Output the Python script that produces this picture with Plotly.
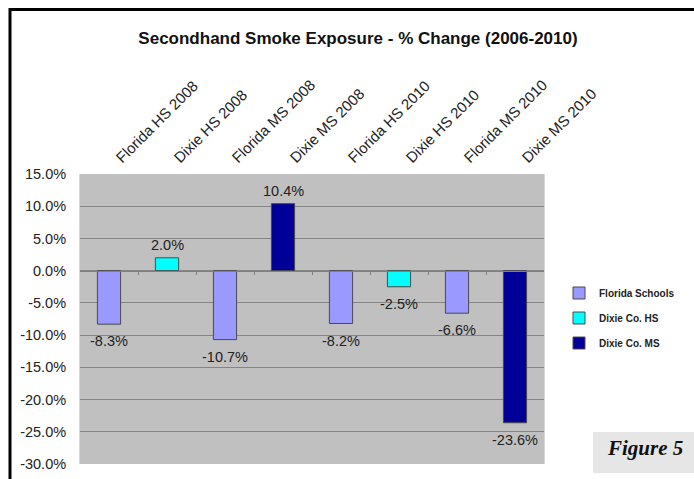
import plotly.graph_objects as go

# Survey categories, in display order
categories = ["Florida HS 2008", "Dixie HS 2008", "Florida MS 2008", "Dixie MS 2008",
              "Florida HS 2010", "Dixie HS 2010", "Florida MS 2010", "Dixie MS 2010"]

# Percent change in secondhand smoke exposure, by group
florida_cats = ["Florida HS 2008", "Florida MS 2008", "Florida HS 2010", "Florida MS 2010"]
florida_vals = [-8.3, -10.7, -8.2, -6.6]
dixie_hs_cats = ["Dixie HS 2008", "Dixie HS 2010"]
dixie_hs_vals = [2.0, -2.5]
dixie_ms_cats = ["Dixie MS 2008", "Dixie MS 2010"]
dixie_ms_vals = [10.4, -23.6]

y_ticks = [15, 10, 5, 0, -5, -10, -15, -20, -25, -30]

series = [
    ("Florida Schools", florida_cats, florida_vals, "#9999FF", "g1"),
    ("Dixie Co. HS", dixie_hs_cats, dixie_hs_vals, "#00FFFF", "g2"),
    ("Dixie Co. MS", dixie_ms_cats, dixie_ms_vals, "#000099", "g3"),
]

FONT = "Liberation Sans, Arial, sans-serif"

fig = go.Figure()
for name, cats, vals, color, grp in series:
    fig.add_trace(go.Bar(
        name=name, x=cats, y=vals, legendgroup=grp,
        marker=dict(color=color, line=dict(color="#4a4a4a", width=1)),
        width=0.4,
    ))
    # value labels: above positive bars, below negative bars
    for c, v in zip(cats, vals):
        fig.add_annotation(
            x=c, y=v, text=f"{v:.1f}%", showarrow=False,
            yanchor="top" if v < 0 else "bottom",
            yshift=-7 if v < 0 else 3,
            font=dict(family=FONT, size=14.5, color="#222222"),
        )

# plot area geometry (pixels) for paper-coordinate helpers
L, R, T, B, W, H = 80, 150, 174, 15, 694, 479
pw, ph = W - L - R, H - T - B
def px(x):
    return (x - L) / pw
def py(y):
    return (H - B - y) / ph

zero_pos = (0 - (-30)) / 45.0

fig.update_layout(
    width=W, height=H,
    margin=dict(l=L, r=R, t=T, b=B, autoexpand=False),
    paper_bgcolor="white", plot_bgcolor="#C0C0C0",
    barmode="overlay",
    font=dict(family=FONT, color="#222222"),
    title=dict(text="<b>Secondhand Smoke Exposure - % Change (2006-2010)</b>",
               x=358 / W, xanchor="center", y=1 - 38 / H, yanchor="middle",
               font=dict(size=17, color="#111111")),
    xaxis=dict(categoryorder="array", categoryarray=categories,
               side="top", tickangle=-45, ticks="", showline=False,
               ticklabelstandoff=4, ticklabelshift=8,
               tickfont=dict(size=15, color="#222222"), showgrid=False),
    xaxis2=dict(overlaying="x", anchor="free", position=zero_pos, side="bottom",
                range=[-0.5, 7.5], tickvals=[0.5, 1.5, 2.5, 3.5, 4.5, 5.5, 6.5],
                ticks="outside", ticklen=3, tickcolor="#808080",
                showticklabels=False, showline=True, linecolor="#808080",
                showgrid=False, zeroline=False),
    yaxis=dict(range=[-30, 15], tickvals=y_ticks,
               ticktext=[f"{v:.1f}%" for v in y_ticks],
               showgrid=True, gridcolor="#858585", gridwidth=1,
               zeroline=False, tickfont=dict(size=14.5, color="#222222"),
               ticklabelstandoff=10,
               showline=True, linecolor="#d8d8d8", mirror=True),
    legend=dict(x=px(559), y=py(278.5), xanchor="left", yanchor="top",
                font=dict(size=10, color="#222222", family=FONT, weight="bold"),
                tracegroupgap=6, bgcolor="rgba(0,0,0,0)"),
    showlegend=True,
)
# invisible point so the secondary x axis (zero-line ticks) is drawn
fig.add_trace(go.Scatter(x=[0], y=[0], xaxis="x2", mode="markers",
                         marker=dict(opacity=0), showlegend=False, hoverinfo="skip"))

# outer black frame along the top and left edges
fig.add_shape(type="path", xref="paper", yref="paper",
              path=f"M {px(10)},{py(H + 5)} L {px(10)},{py(9.5)} L {px(W + 5)},{py(9.5)}",
              line=dict(color="black", width=3))

# figure caption box
fig.add_shape(type="rect", xref="paper", yref="paper",
              x0=px(593), x1=px(W + 2), y0=py(473), y1=py(432),
              fillcolor="#E6E6E6", line=dict(width=0), layer="below")
fig.add_annotation(xref="paper", yref="paper", x=px(645), y=py(448),
                   xanchor="center", yanchor="middle",
                   text="<b><i>Figure 5</i></b>", showarrow=False,
                   font=dict(family="Liberation Serif, Times New Roman, serif", size=21, color="#111111"))

fig.write_html("out.html")
